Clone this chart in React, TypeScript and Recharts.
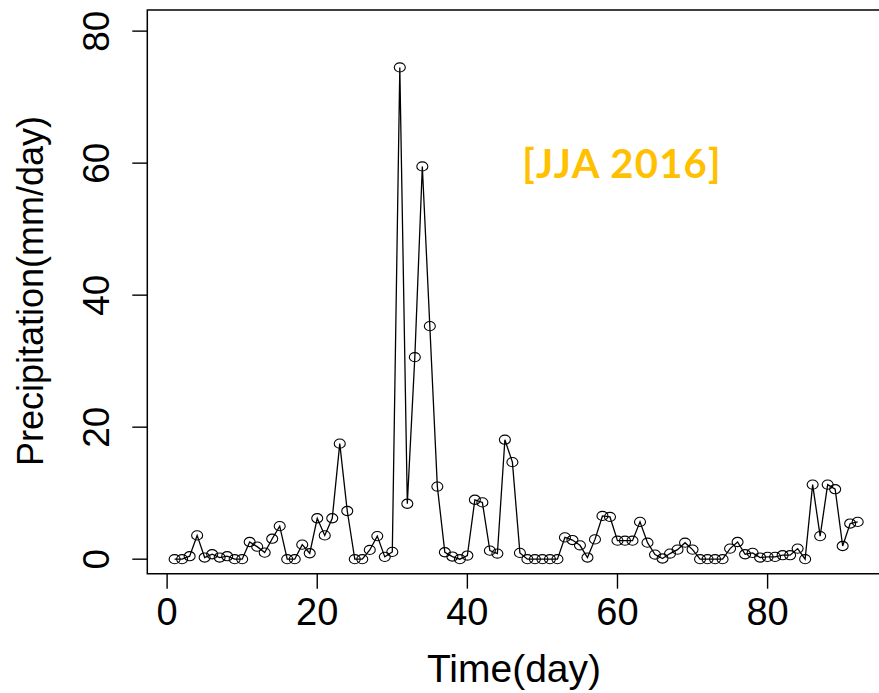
import React from "react";
import { LineChart, Line, XAxis, YAxis, ReferenceArea } from "recharts";

// Daily precipitation (mm/day), JJA 2016, day 1..92
const precipitation: number[] = [
  0, 0, 0.45, 3.6, 0.25, 0.75, 0.25, 0.45, 0, 0,
  2.6, 1.9, 1.0, 3.1, 5.0, 0, 0, 2.2, 0.9, 6.2,
  3.6, 6.2, 17.5, 7.3, 0, 0, 1.4, 3.5, 0.35, 1.1,
  74.5, 8.4, 30.6, 59.5, 35.3, 11.0, 1.05, 0.4, 0, 0.55,
  9.0, 8.6, 1.3, 0.85, 18.1, 14.7, 0.95, 0, 0, 0,
  0, 0, 3.3, 2.9, 2.1, 0.25, 3.0, 6.55, 6.4, 2.8,
  2.8, 2.8, 5.65, 2.5, 0.7, 0.1, 0.85, 1.45, 2.5, 1.45,
  0, 0, 0, 0, 1.6, 2.6, 0.75, 0.95, 0.25, 0.35,
  0.35, 0.6, 0.6, 1.6, 0, 11.3, 3.5, 11.3, 10.6, 2.0,
  5.4, 5.65,
];

const xTicks: number[] = [0, 20, 40, 60, 80];
const yTicks: number[] = [0, 20, 40, 60, 80];
const xDomain: [number, number] = [-2.64, 95.64];
const yDomain: [number, number] = [-2.2, 83.2];

const xTitle = "Time(day)";
const yTitle = "Precipitation(mm/day)";
const annotation = "[JJA 2016]";

const data = precipitation.map((v, i) => ({ day: i + 1, value: v }));

const FONT = "'Liberation Sans', Arial, sans-serif";

const XTick = (props: any) => {
  const { x, y, payload } = props;
  return (
    <text x={x} y={y + 36} textAnchor="middle" fontSize={38} fontFamily={FONT} fill="#000">
      {payload.value}
    </text>
  );
};

const YTick = (props: any) => {
  const { x, y, payload } = props;
  const bx = x - 23;
  return (
    <text
      x={bx}
      y={y}
      transform={`rotate(-90, ${bx}, ${y})`}
      textAnchor="middle"
      fontSize={37}
      fontFamily={FONT}
      fill="#000"
    >
      {payload.value}
    </text>
  );
};

const Dot = (props: any) => {
  const { cx, cy, index } = props;
  if (cx == null || cy == null) return null;
  return (
    <ellipse key={`d${index}`} cx={cx} cy={cy} rx={5.5} ry={4.6} fill="none" stroke="#000" strokeWidth={1.1} />
  );
};

export default function App() {
  return (
    <div
      style={{
        position: "fixed",
        left: 0,
        top: 0,
        width: 879,
        height: 693,
        overflow: "hidden",
        background: "#fff",
      }}
    >
      <LineChart
        width={900}
        height={693}
        data={data}
        margin={{ top: 10, right: 15, bottom: 19.3, left: 27.3 }}
      >
        <XAxis
          dataKey="day"
          type="number"
          domain={xDomain}
          ticks={xTicks}
          allowDataOverflow
          axisLine={false}
          tickLine={{ stroke: "#000", strokeWidth: 1.4 }}
          tickSize={15}
          tickMargin={0}
          height={100}
          tick={<XTick />}
          interval={0}
        />
        <YAxis
          type="number"
          domain={yDomain}
          ticks={yTicks}
          allowDataOverflow
          axisLine={false}
          tickLine={{ stroke: "#000", strokeWidth: 1.4 }}
          tickSize={15}
          tickMargin={0}
          width={120}
          tick={<YTick />}
          interval={0}
        />
        <ReferenceArea
          x1={xDomain[0]}
          x2={xDomain[1]}
          y1={yDomain[0]}
          y2={yDomain[1]}
          fill="none"
          fillOpacity={0}
          stroke="#000"
          strokeWidth={1.5}
          ifOverflow="visible"
        />
        <Line
          type="linear"
          dataKey="value"
          stroke="#000"
          strokeWidth={1.3}
          dot={<Dot />}
          activeDot={false}
          isAnimationActive={false}
        />
      </LineChart>
      <svg
        width={879}
        height={693}
        style={{ position: "absolute", left: 0, top: 0, pointerEvents: "none" }}
      >
        <text x={514} y={682} textAnchor="middle" fontSize={39} fontFamily={FONT} fill="#000">
          {xTitle}
        </text>
        <text
          x={43}
          y={291}
          transform="rotate(-90, 43, 291)"
          textAnchor="middle"
          fontSize={36}
          fontFamily={FONT}
          fill="#000"
        >
          {yTitle}
        </text>
        <text
          x={622}
          y={178}
          textAnchor="middle"
          fontSize={40}
          fontWeight="bold"
          letterSpacing={1.2}
          fontFamily="Lato, 'Open Sans', sans-serif"
          fill="#FFC000"
        >
          {annotation}
        </text>
      </svg>
    </div>
  );
}
